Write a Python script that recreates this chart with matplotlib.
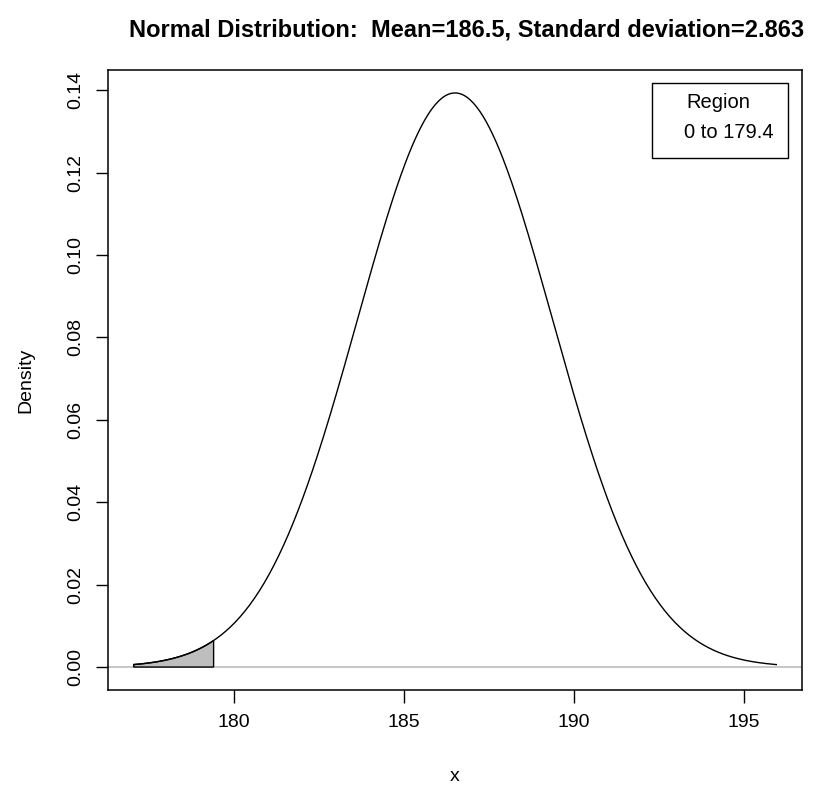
import numpy as np
import matplotlib.pyplot as plt

# Parameter aus dem Titel
mean = 186.5
sd = 2.863
lower, upper = 0, 179.4          # schattierter Bereich
x_lo, x_hi = 177.05, 195.95      # Kurvenbereich

x_ticks = [180, 185, 190, 195]
y_ticks = [0.00, 0.02, 0.04, 0.06, 0.08, 0.10, 0.12, 0.14]

plt.rcParams["font.family"] = ["Liberation Sans", "DejaVu Sans"]

x = np.linspace(x_lo, x_hi, 400)
y = np.exp(-0.5 * ((x - mean) / sd) ** 2) / (sd * np.sqrt(2 * np.pi))

fig = plt.figure(figsize=(8.13, 7.87), dpi=100)
ax = fig.add_axes([108 / 813, 1 - 690 / 787, 694 / 813, 620 / 787])

ax.axhline(0, color="#bebebe", lw=1.2, zorder=1)
ax.plot(x, y, color="black", lw=1.0, zorder=3)

# Fläche unter der Kurve
xs = x[x <= upper]
xs = np.append(xs, upper)
ys = np.exp(-0.5 * ((xs - mean) / sd) ** 2) / (sd * np.sqrt(2 * np.pi))
px = np.concatenate([[xs[0]], xs, [upper]])
py = np.concatenate([[0], ys, [0]])
ax.fill(px, py, facecolor="#bebebe", edgecolor="black", lw=1.0, zorder=2)

rng = x_hi - x_lo
ax.set_xlim(x_lo - 0.04 * rng, x_hi + 0.04 * rng)
ymax = y.max()
ax.set_ylim(-0.04 * ymax, ymax * 1.04)

ax.set_xticks(x_ticks)
ax.set_yticks(y_ticks)
ax.set_yticklabels([f"{v:.2f}" for v in y_ticks], rotation=90, va="center")
ax.tick_params(direction="out", length=9, width=1, labelsize=14, pad=8)
for s in ax.spines.values():
    s.set_linewidth(1.1)

ax.set_xlabel("x", fontsize=14, labelpad=27)
ax.set_ylabel("Density", fontsize=14, labelpad=24)
fig.text(467 / 813, 1 - 30 / 787,
         "Normal Distribution:  Mean=186.5, Standard deviation=2.863",
         fontsize=17, fontweight="bold", ha="center", va="center")

# Legende
ax.text(0.879, 0.9468, "Region", transform=ax.transAxes, ha="center",
        va="center", fontsize=14.5)
ax.text(0.8948, 0.8984, "0 to %.1f" % upper, transform=ax.transAxes,
        ha="center", va="center", fontsize=14.5)
ax.add_patch(plt.Rectangle(((652 - 108) / 694, (690 - 158) / 620),
                           136 / 694, 75 / 620, transform=ax.transAxes,
                           fill=False, edgecolor="black", lw=1.0))

fig.savefig("out.png", dpi=100)
